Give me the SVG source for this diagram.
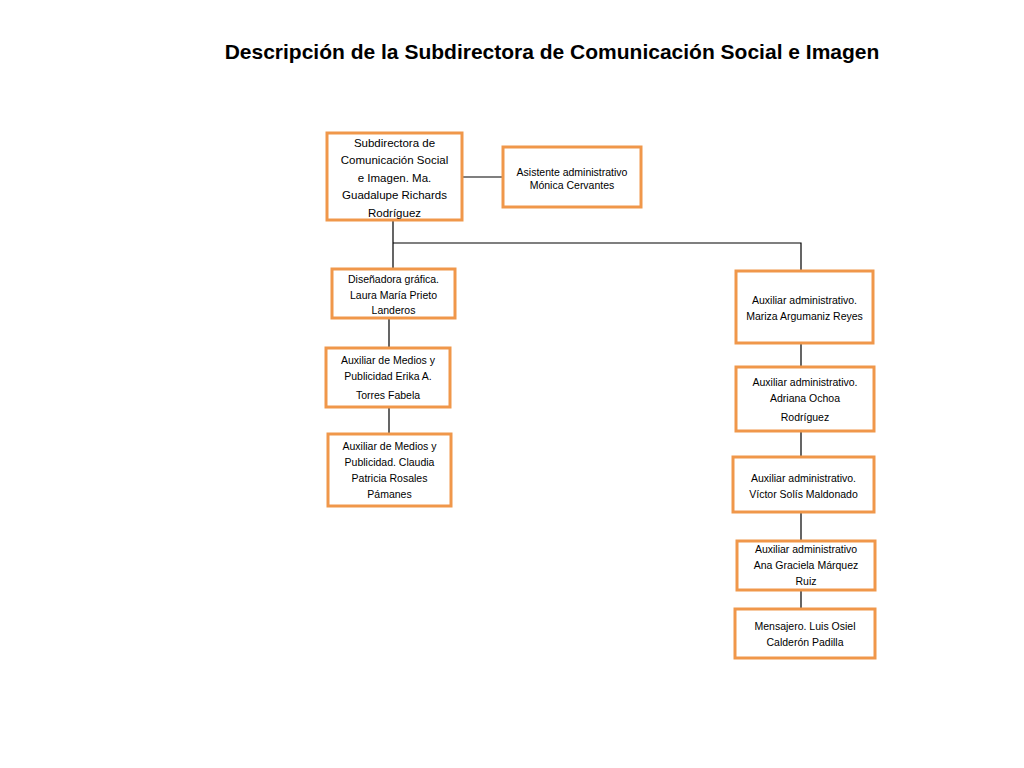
<svg xmlns="http://www.w3.org/2000/svg" width="1024" height="768" viewBox="0 0 1024 768">
<style>
.b{fill:#fff;stroke:#f0974a;stroke-width:3}
.t{font-family:"Liberation Sans Narrow","Liberation Sans",sans-serif;font-size:10.5px;fill:#000;text-anchor:middle}
.c{stroke:#000;stroke-width:1.2;fill:none}
</style>
<rect width="1024" height="768" fill="#fff"/>
<text x="552" y="59" style="font-family:'Liberation Sans',sans-serif;font-size:21px;font-weight:bold;text-anchor:middle">Descripción de la Subdirectora de Comunicación Social e Imagen</text>
<g id="connectors">
<path class="c" d="M462 177H503M393 220V269M393 243H801V271M389 318V348M389 407V434M801 343V367M801 431V457M801 512V541M801 590V609"/>
</g>
<g id="n1"><rect class="b" x="327" y="133" width="135" height="87"/><text class="t" style="font-size:11.5px"><tspan x="394.5" y="147">Subdirectora de</tspan><tspan x="394.5" y="164">Comunicación Social</tspan><tspan x="394.5" y="182">e Imagen. Ma.</tspan><tspan x="394.5" y="199">Guadalupe Richards</tspan><tspan x="394.5" y="217">Rodríguez</tspan></text></g>
<g id="n2"><rect class="b" x="503" y="147" width="138" height="60"/><text class="t"><tspan x="572" y="176">Asistente administrativo</tspan><tspan x="572" y="189">Mónica Cervantes</tspan></text></g>
<g id="n3"><rect class="b" x="332" y="269" width="123" height="49"/><text class="t"><tspan x="393.5" y="283">Diseñadora gráfica.</tspan><tspan x="393.5" y="299">Laura María Prieto</tspan><tspan x="393.5" y="314">Landeros</tspan></text></g>
<g id="n4"><rect class="b" x="326" y="348" width="124" height="59"/><text class="t"><tspan x="388" y="364">Auxiliar de Medios y</tspan><tspan x="388" y="380">Publicidad Erika A.</tspan><tspan x="388" y="399">Torres Fabela</tspan></text></g>
<g id="n5"><rect class="b" x="328" y="434" width="123" height="72"/><text class="t"><tspan x="389.5" y="450">Auxiliar de Medios y</tspan><tspan x="389.5" y="466">Publicidad. Claudia</tspan><tspan x="389.5" y="482">Patricia Rosales</tspan><tspan x="389.5" y="498">Pámanes</tspan></text></g>
<g id="n6"><rect class="b" x="736" y="271" width="137" height="72"/><text class="t"><tspan x="804.5" y="304">Auxiliar administrativo.</tspan><tspan x="804.5" y="320">Mariza Argumaniz Reyes</tspan></text></g>
<g id="n7"><rect class="b" x="736" y="367" width="138" height="64"/><text class="t"><tspan x="805" y="386">Auxiliar administrativo.</tspan><tspan x="805" y="402">Adriana Ochoa</tspan><tspan x="805" y="421">Rodríguez</tspan></text></g>
<g id="n8"><rect class="b" x="733" y="457" width="141" height="55"/><text class="t"><tspan x="803.5" y="482">Auxiliar administrativo.</tspan><tspan x="803.5" y="498">Víctor Solís  Maldonado</tspan></text></g>
<g id="n9"><rect class="b" x="737" y="541" width="138" height="49"/><text class="t"><tspan x="806" y="553">Auxiliar administrativo</tspan><tspan x="806" y="569">Ana Graciela Márquez</tspan><tspan x="806" y="585">Ruiz</tspan></text></g>
<g id="n10"><rect class="b" x="735" y="609" width="140" height="49"/><text class="t"><tspan x="805" y="630">Mensajero. Luis Osiel</tspan><tspan x="805" y="646">Calderón Padilla</tspan></text></g>
</svg>
